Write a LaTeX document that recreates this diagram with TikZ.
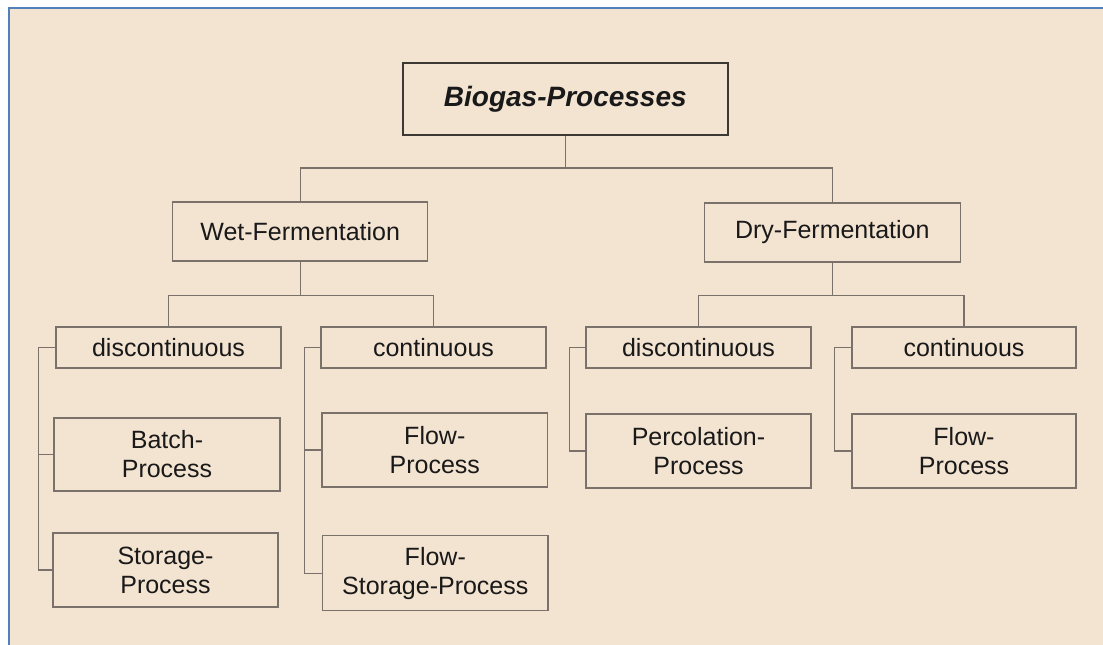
\documentclass[tikz,border=0pt]{standalone}
\usepackage{fontspec}
\setmainfont{Liberation Sans}
\definecolor{bgc}{RGB}{243,227,209}
\definecolor{framec}{RGB}{79,129,189}
\definecolor{linec}{RGB}{122,114,106}
\definecolor{topc}{RGB}{60,56,52}
\definecolor{txtc}{RGB}{25,25,25}
\tikzset{
  box/.style={draw=linec, line width=1.3pt, rectangle, inner sep=0pt, align=center,
    text=txtc, font=\fontsize{25}{29}\selectfont},
  topbox/.style={draw=topc, line width=2.2pt, rectangle, inner sep=0pt, align=center,
    text=txtc, font=\fontsize{28}{32}\selectfont\bfseries\itshape},
  conn/.style={draw=linec, line width=1.3pt}
}
\begin{document}
\begin{tikzpicture}[x=1pt,y=-1pt]
\useasboundingbox (0,0) rectangle (1103,645);
\fill[white] (0,0) rectangle (1103,645);
\fill[bgc] (9,8) rectangle (1103,645);
\draw[framec, line width=1.6pt] (9,645) -- (9,8) -- (1103,8);

\node[topbox, minimum width=325pt, minimum height=72pt] (top) at (565.3,98.8) {Biogas-Processes};

\node[box, minimum width=255pt, minimum height=59pt] (wet) at (300.2,231.4) {Wet-Fermentation};
\node[box, minimum width=256pt, minimum height=59pt] (dry) at (832.3,232.5) {Dry-Fermentation};

\node[box, minimum width=225pt, minimum height=41pt] (wdis) at (168.5,347.5) {discontinuous};
\node[box, minimum width=225pt, minimum height=41pt] (wcon) at (433.5,347.5) {continuous};
\node[box, minimum width=226pt, minimum height=73pt] (batch) at (167,454.5) {Batch-\\Process};
\node[box, minimum width=225pt, minimum height=74pt] (stor) at (165.5,570) {Storage-\\Process};
\node[box, minimum width=225.5pt, minimum height=74pt] (flow1) at (434.8,450) {Flow-\\Process};
\node[box, minimum width=225.5pt, minimum height=75pt] (fstor) at (435.3,573.2) {Flow-\\Storage-Process};

\node[box, minimum width=225pt, minimum height=41pt] (ddis) at (698.5,347.5) {discontinuous};
\node[box, minimum width=224pt, minimum height=41pt] (dcon) at (964,347.5) {continuous};
\node[box, minimum width=225pt, minimum height=74pt] (perc) at (698.5,451) {Percolation-\\Process};
\node[box, minimum width=224pt, minimum height=74pt] (flow2) at (964,451) {Flow-\\Process};

% top level
\draw[conn] (top.south) -- ++(0,32) coordinate (j1);
\draw[conn] (wet.north) |- (j1) -| (dry.north);
% wet
\draw[conn] (wet.south) -- ++(0,34) coordinate (j2);
\draw[conn] (wdis.north) |- (j2) -| (wcon.north);
% dry
\draw[conn] (dry.south) -- ++(0,33) coordinate (j3);
\draw[conn] (ddis.north) |- (j3) -| (dcon.north);

% brackets
\draw[conn] (wdis.west) -- ++(-17,0) coordinate (b1) |- (stor.west);
\draw[conn] (batch.west) -- (b1 |- batch.west);
\draw[conn] (wcon.west) -- ++(-16,0) coordinate (b2) |- (fstor.west);
\draw[conn] (flow1.west) -- (b2 |- flow1.west);
\draw[conn] (ddis.west) -- ++(-16,0) coordinate (b3) |- (perc.west);
\draw[conn] (dcon.west) -- ++(-17,0) coordinate (b4) |- (flow2.west);
\end{tikzpicture}
\end{document}
